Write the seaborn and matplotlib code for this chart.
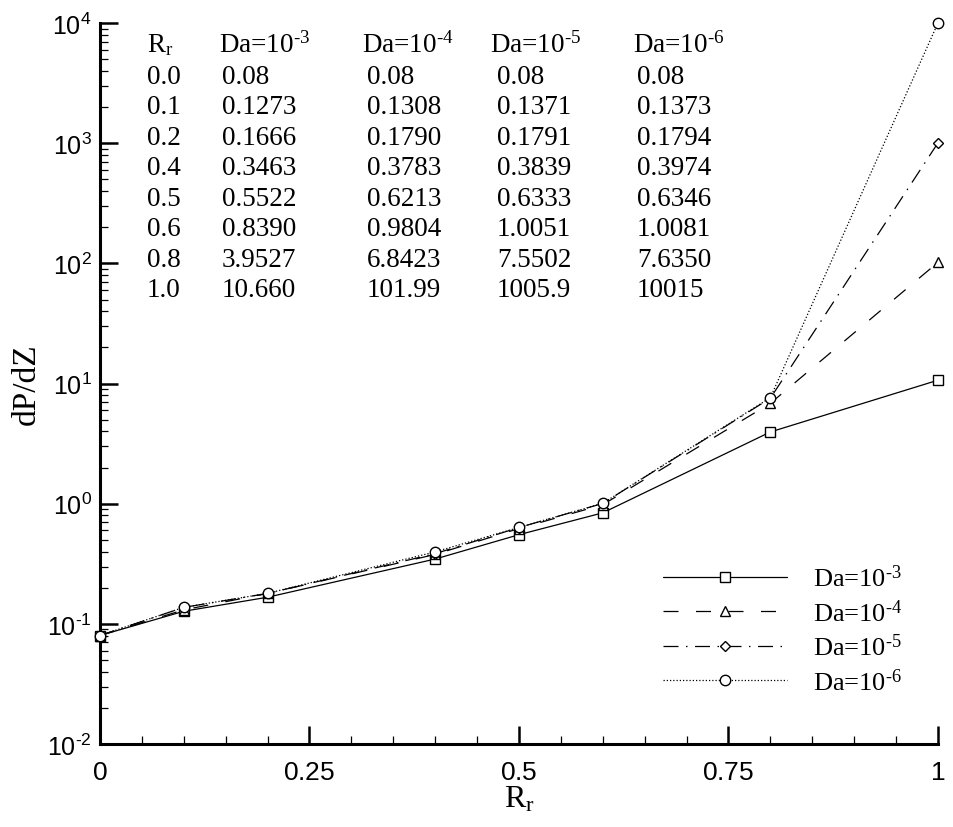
import numpy as np
import pandas as pd
import seaborn as sns
import matplotlib
matplotlib.use("Agg")
import matplotlib.pyplot as plt
from matplotlib import font_manager
from matplotlib.ticker import FixedLocator, FuncFormatter, LogLocator, MultipleLocator, NullFormatter

# ---------------- data ----------------
Rr = [0.0, 0.1, 0.2, 0.4, 0.5, 0.6, 0.8, 1.0]
da3 = [0.08, 0.1273, 0.1666, 0.3463, 0.5522, 0.8390, 3.9527, 10.660]
da4 = [0.08, 0.1308, 0.1790, 0.3783, 0.6213, 0.9804, 6.8423, 101.99]
da5 = [0.08, 0.1371, 0.1791, 0.3839, 0.6333, 1.0051, 7.5502, 1005.9]
da6 = [0.08, 0.1373, 0.1794, 0.3974, 0.6346, 1.0081, 7.6350, 10015]

HY = "\u2010"  # typographic hyphen used as exponent sign
da_exps = [3, 4, 5, 6]
series_labels = [r"Da=10$^{%s%d}$" % (HY, e) for e in da_exps]

table_rr = ["0.0", "0.1", "0.2", "0.4", "0.5", "0.6", "0.8", "1.0"]
table_da3 = ["0.08", "0.1273", "0.1666", "0.3463", "0.5522", "0.8390", "3.9527", "10.660"]
table_da4 = ["0.08", "0.1308", "0.1790", "0.3783", "0.6213", "0.9804", "6.8423", "101.99"]
table_da5 = ["0.08", "0.1371", "0.1791", "0.3839", "0.6333", "1.0051", "7.5502", "1005.9"]
table_da6 = ["0.08", "0.1373", "0.1794", "0.3974", "0.6346", "1.0081", "7.6350", "10015"]

x_major = [0, 0.25, 0.5, 0.75, 1]

# ---------------- style ----------------
sns.set_theme(style="ticks")
avail = {f.name for f in font_manager.fontManager.ttflist}
sans = "Liberation Sans Narrow" if "Liberation Sans Narrow" in avail else "Liberation Sans"
serif = "Liberation Serif"
plt.rcParams["font.family"] = [serif, "DejaVu Serif"]
plt.rcParams["mathtext.fontset"] = "custom"
plt.rcParams["mathtext.rm"] = serif
plt.rcParams["mathtext.it"] = serif + ":italic"
plt.rcParams["mathtext.sf"] = sans
for k in ["text.color", "axes.labelcolor", "xtick.color", "ytick.color",
          "xtick.labelcolor", "ytick.labelcolor"]:
    plt.rcParams[k] = "black"

df = pd.DataFrame({"Rr": Rr * 4,
                   "dPdZ": da3 + da4 + da5 + da6,
                   "Da": sum([[l] * len(Rr) for l in series_labels], [])})

fig = plt.figure(figsize=(9.54, 8.28), dpi=100)
ax = fig.add_axes([0.1048, 0.1002, 0.8784, 0.8708])

styles = [
    dict(marker="s", linestyle="-"),
    dict(marker="^", linestyle=(0, (12, 14))),
    dict(marker="D", linestyle=(0, (12, 6, 1.2, 6))),
    dict(marker="o", linestyle=(0, (1, 1.6))),
]
msizes = [6.5, 7, 5.5, 7.5]
for lab, st, ms in zip(series_labels, styles, msizes):
    sub = df[df["Da"] == lab]
    sns.lineplot(data=sub, x="Rr", y="dPdZ", ax=ax, color="black", lw=0.9,
                 marker=st["marker"], linestyle=st["linestyle"], markersize=ms,
                 markerfacecolor="white", markeredgecolor="black",
                 markeredgewidth=1.0, label=lab, clip_on=False, zorder=3)

ax.set_yscale("log")
ax.set_xlim(0, 1)
ax.set_ylim(1e-2, 1e4)

sns.despine(ax=ax, top=True, right=True)
for s in ["left", "bottom"]:
    ax.spines[s].set_linewidth(2.2)
    ax.spines[s].set_color("black")

ax.xaxis.set_major_locator(FixedLocator(x_major))
ax.xaxis.set_minor_locator(MultipleLocator(0.05))
ax.xaxis.set_minor_formatter(NullFormatter())
ax.xaxis.set_major_formatter(FuncFormatter(lambda v, p: r"$\mathsf{%g}$" % v))
ax.yaxis.set_major_locator(LogLocator(base=10, numticks=20))
ax.yaxis.set_minor_locator(LogLocator(base=10, subs=np.arange(2, 10), numticks=20))
ax.yaxis.set_minor_formatter(NullFormatter())


def yfmt(v, p):
    e = int(round(np.log10(v)))
    s = (HY + str(-e)) if e < 0 else str(e)
    return r"$\mathsf{10^{%s}}$" % s


ax.yaxis.set_major_formatter(FuncFormatter(yfmt))

ax.tick_params(which="major", direction="in", length=13, width=1.8, color="black",
               labelcolor="black", pad=6)
ax.tick_params(which="minor", direction="in", length=6, width=0.9, color="black")
ax.tick_params(axis="y", which="major", labelsize=18)
ax.tick_params(axis="x", which="major", labelsize=19, pad=13)

ax.set_xlabel(r"R$_\mathrm{r}$", fontsize=23, labelpad=0, color="black")
ax.set_ylabel("dP/dZ", fontsize=24, labelpad=4, color="black")

# ---------------- table ----------------
def ax_xy(px, py):
    return (px - 100) / 838, (745 - py) / 721

col_hdr_x = [147, 219, 362, 490, 633]
col_val_x = [147, 222, 367, 497, 637]
headers = [r"R$_\mathrm{r}$"] + series_labels
row_y0, row_dy = 77, 30.5
fs_tab = 19.5
for hx, h in zip(col_hdr_x, headers):
    x, y = ax_xy(hx, 45)
    ax.text(x, y, h, transform=ax.transAxes, fontsize=fs_tab, ha="left", va="center",
            color="black")
cols = [table_rr, table_da3, table_da4, table_da5, table_da6]
for cx, col in zip(col_val_x, cols):
    for i, s in enumerate(col):
        x, y = ax_xy(cx, row_y0 + i * row_dy)
        ax.text(x, y, s, transform=ax.transAxes, fontsize=fs_tab, ha="left", va="center",
                color="black")

# ---------------- legend ----------------
leg = ax.legend(loc="center left", bbox_to_anchor=ax_xy(663, 630.5), frameon=False,
                fontsize=19, handlelength=4.7, handletextpad=1.0, labelspacing=0.3,
                borderpad=0, borderaxespad=0, numpoints=1, labelcolor="black")

fig.savefig("out.png", dpi=100)
